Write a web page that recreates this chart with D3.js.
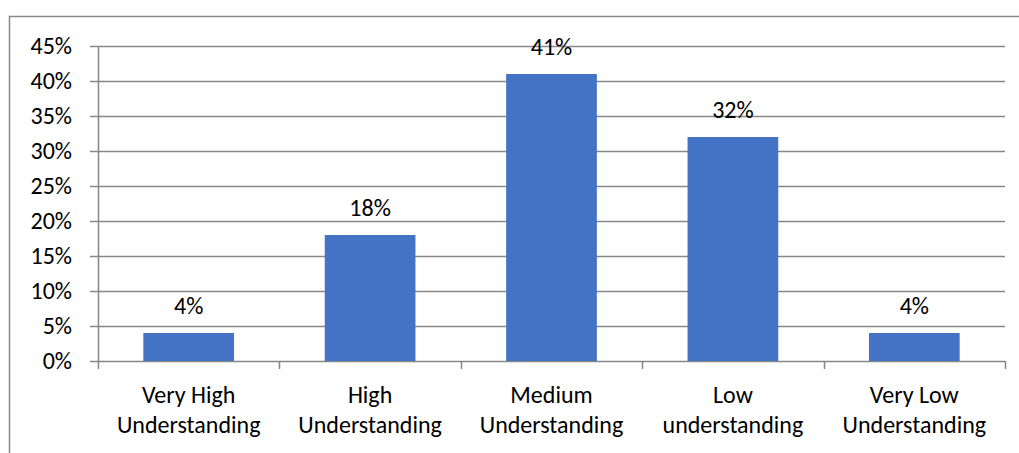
<!DOCTYPE html>
<html><head><meta charset="utf-8">
<script src="https://cdn.jsdelivr.net/npm/d3@7"></script>
<style>body{margin:0;background:#fff}svg{display:block}text{font-family:Carlito,Lato,"Open Sans",sans-serif;fill:#000}</style>
</head><body><svg id="c" width="1019" height="453"></svg>
<script>
const categories = [["Very High","Understanding"],["High","Understanding"],["Medium","Understanding"],["Low","understanding"],["Very Low","Understanding"]];
const values = [4, 18, 41, 32, 4];
const yTicks = [0,5,10,15,20,25,30,35,40,45];

const svg = d3.select("#c");
const m = {l:98, r:1005, t:46, b:361};
svg.append("rect").attr("x",9.5).attr("y",16.5).attr("width",1030).attr("height",460)
  .attr("fill","none").attr("stroke","#898989").attr("stroke-width",1.5);

const x = d3.scaleBand().domain(d3.range(categories.length)).range([m.l,m.r]).paddingInner(0).paddingOuter(0);
const y = d3.scaleLinear().domain([0,45]).range([m.b,m.t]);
const fs = 24;

// grid
svg.append("g").selectAll("line").data(yTicks).join("line")
  .attr("x1",m.l-8).attr("x2",m.r).attr("y1",d=>Math.round(y(d))+0.5).attr("y2",d=>Math.round(y(d))+0.5)
  .attr("stroke","#878787").attr("stroke-width",1.5);
// y axis line
svg.append("line").attr("x1",m.l+0.5).attr("x2",m.l+0.5).attr("y1",m.t).attr("y2",m.b).attr("stroke","#878787").attr("stroke-width",1.5);
// x ticks
const xt = d3.range(categories.length+1).map(i=>m.l + i*x.bandwidth());
svg.append("g").selectAll("line").data(xt).join("line")
  .attr("x1",d=>Math.round(d)+0.5).attr("x2",d=>Math.round(d)+0.5).attr("y1",m.b).attr("y2",m.b+8)
  .attr("stroke","#878787").attr("stroke-width",1.5);

// y labels
svg.append("g").selectAll("text").data(yTicks).join("text")
  .attr("x",72).attr("y",d=>y(d)+8).attr("text-anchor","end").attr("font-size",fs).text(d=>d+"%");

// bars
const bw = x.bandwidth()*0.5;
svg.append("g").selectAll("rect").data(values).join("rect")
  .attr("x",(d,i)=>x(i)+x.bandwidth()/2-bw/2).attr("width",bw)
  .attr("y",d=>y(d)).attr("height",d=>m.b-y(d)).attr("fill","#4472C4");

// data labels
svg.append("g").selectAll("text").data(values).join("text")
  .attr("x",(d,i)=>x(i)+x.bandwidth()/2).attr("y",d=>y(d)-19).attr("text-anchor","middle")
  .attr("font-size",fs).text(d=>d+"%");

// category labels
const cl = svg.append("g").selectAll("text").data(categories).join("text")
  .attr("text-anchor","middle").attr("font-size",fs);
cl.each(function(d,i){
  const t = d3.select(this);
  d.forEach((s,j)=>t.append("tspan").attr("x",x(i)+x.bandwidth()/2).attr("y",403+j*30).text(s));
});
</script></body></html>
